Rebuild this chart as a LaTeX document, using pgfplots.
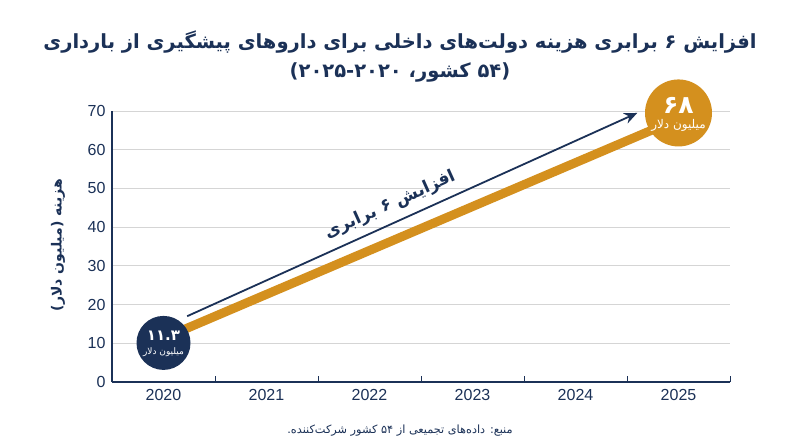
\documentclass[border=0pt]{standalone}
\usepackage{fontspec}
\usepackage{pgfplots}
\pgfplotsset{compat=1.18}
\usetikzlibrary{arrows.meta}
\setmainfont{Liberation Sans}
\newfontfamily\fa[Script=Arabic]{DejaVu Sans}
\TeXXeTstate=1
\definecolor{navy}{HTML}{1B3157}
\definecolor{gold}{HTML}{D4901E}
\definecolor{gridc}{HTML}{D5D5D5}
\begin{document}
\begin{tikzpicture}[x=1pt,y=1pt]
\useasboundingbox (0,0) rectangle (800,-447);
\fill[white] (0,0) rectangle (800,-447);
\node[text=navy, font=\fa\bfseries\fontsize{19.5}{24}\selectfont] at (400,-42) {\beginR افزایش ۶ برابری هزینه دولت‌های داخلی برای داروهای پیشگیری از بارداری\endR};
\node[text=navy, font=\fa\bfseries\fontsize{19.5}{24}\selectfont] at (400,-72) {\beginR (۵۴ کشور، ۲۰۲۰\kern0pt-\kern0pt۲۰۲۵)\endR};
\node[text=navy, rotate=90, font=\fa\bfseries\fontsize{14}{16}\selectfont] at (58,-245) {\beginR هزینه (میلیون دلار)\endR};
\node[text=navy, font=\fa\fontsize{11.3}{14}\selectfont] at (400,-431) {\beginR منبع: داده‌های تجمیعی از ۵۴ کشور شرکت‌کننده.\endR};
\begin{axis}[
  at={(112pt,-382pt)}, anchor=south west,
  width=618pt, height=271pt, scale only axis,
  xmin=2019.5, xmax=2025.5, ymin=0, ymax=70,
  axis x line=bottom, axis y line=left,
  axis line style={-, navy, line width=1.4pt},
  xtick={2020,2021,2022,2023,2024,2025},
  xticklabels={2020,2021,2022,2023,2024,2025},
  minor xtick={2019.5,2020.5,2021.5,2022.5,2023.5,2024.5,2025.5},
  major tick length=0pt, minor tick length=6pt, tick align=inside,
  minor tick style={navy, line width=0.8pt},
  ytick={0,10,20,30,40,50,60,70},
  ymajorgrids, grid style={gridc, line width=0.8pt},
  tick label style={text=navy, font=\fontsize{16}{19}\selectfont},
  /pgf/number format/assume math mode=true,
  xticklabel style={yshift=-4pt},
  yticklabel style={xshift=-3pt},
  clip=false,
]
\addplot[gold, line width=9pt] coordinates {(2020,11.3) (2025,68)};
\addplot[navy, line width=1.8pt, -{Stealth[length=13pt,width=11pt]}] coordinates {(2020.23,17) (2024.6,69.5)};
\node[text=navy, rotate=24.3, font=\fa\bfseries\fontsize{17}{20}\selectfont] at (axis cs:2022.2,45.7) {\beginR افزایش ۶ برابری\endR};
\node[circle, fill=navy, minimum size=54pt, inner sep=0pt] (a) at (axis cs:2020,10.1) {};
\node[text=white, font=\fa\bfseries\fontsize{15}{18}\selectfont] at ([yshift=7pt]a.center) {۱۱.۳};
\node[text=white, font=\fa\fontsize{9}{11}\selectfont] at ([yshift=-9pt]a.center) {\beginR میلیون دلار\endR};
\node[circle, fill=gold, minimum size=67pt, inner sep=0pt] (b) at (axis cs:2025,69.5) {};
\node[text=white, font=\fa\bfseries\fontsize{25}{28}\selectfont] at ([yshift=8pt]b.center) {۶۸};
\node[text=white, font=\fa\fontsize{12}{14}\selectfont] at ([yshift=-12pt]b.center) {\beginR میلیون دلار\endR};
\end{axis}
\end{tikzpicture}
\end{document}
